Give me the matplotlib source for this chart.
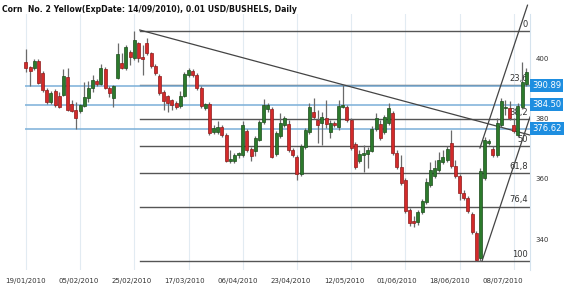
import numpy as np
import matplotlib
matplotlib.use("Agg")
import matplotlib.pyplot as plt
import matplotlib.transforms as mtransforms

# daily OHLC, 19/01/2010 .. 13/07/2010 (one entry per trading day)
opens = [398.7, 397.0, 396.7, 399.0, 395.0, 389.4, 385.4, 389.1, 387.4, 387.8,
         393.7, 384.8, 382.8, 382.5, 384.1, 386.8, 390.1, 392.4, 391.4, 396.4,
         390.1, 386.8, 393.4, 398.3, 396.7, 402.0, 400.0, 405.0, 400.3, 405.0,
         401.7, 397.4, 394.0, 388.7, 387.4, 386.1, 385.1, 384.1, 387.4, 394.4,
         395.7, 394.4, 390.1, 383.4, 384.8, 375.5, 375.5, 377.2, 374.5, 365.9,
         365.9, 367.9, 367.9, 375.8, 369.9, 369.2, 372.9, 378.8, 383.1, 383.1,
         368.2, 374.2, 377.8, 378.1, 369.5, 367.2, 361.6, 370.5, 375.5, 382.1,
         379.5, 378.5, 380.1, 375.5, 378.5, 377.2, 383.8, 383.8, 379.5, 371.5,
         365.9, 367.9, 368.2, 369.2, 376.5, 378.1, 375.5, 378.5, 381.8, 368.5,
         363.9, 359.6, 349.7, 346.0, 345.7, 349.0, 352.3, 358.0, 360.9, 362.9,
         365.6, 366.2, 371.9, 364.2, 360.9, 355.3, 353.6, 348.3, 342.1, 333.8,
         360.3, 371.9, 369.9, 367.9, 377.8, 383.4, 383.4, 377.8, 374.5, 383.8,
         391.4]
highs = [403.0, 397.4, 399.7, 399.7, 395.7, 390.1, 389.1, 389.7, 388.7, 396.4,
         396.7, 386.1, 385.4, 384.8, 392.1, 392.4, 394.4, 393.0, 398.0, 397.0,
         390.7, 391.1, 405.0, 401.7, 404.3, 402.6, 408.9, 405.3, 404.3, 406.6,
         402.0, 398.0, 394.7, 389.4, 387.8, 386.4, 385.8, 389.1, 395.4, 396.7,
         396.4, 395.0, 390.7, 385.1, 385.4, 377.8, 379.1, 377.8, 375.2, 369.5,
         368.5, 368.9, 379.1, 376.5, 370.5, 374.2, 379.5, 386.4, 385.1, 383.8,
         375.8, 381.8, 380.8, 379.5, 370.2, 367.9, 371.5, 376.8, 385.1, 386.8,
         382.8, 382.1, 386.1, 379.5, 379.1, 386.1, 391.1, 384.4, 380.1, 372.2,
         369.5, 371.2, 370.5, 377.5, 381.8, 379.5, 381.1, 385.1, 382.5, 369.5,
         367.9, 360.3, 350.3, 347.7, 349.7, 353.3, 360.3, 365.6, 366.2, 368.9,
         369.5, 370.9, 376.2, 366.2, 361.6, 356.3, 354.3, 349.0, 342.7, 363.6,
         373.8, 373.2, 370.9, 380.1, 386.8, 386.1, 385.8, 380.1, 385.1, 398.7,
         396.7]
lows = [395.4, 390.7, 396.0, 391.4, 388.7, 384.8, 384.8, 383.8, 383.4, 387.4,
        382.5, 382.1, 376.5, 381.8, 383.8, 385.4, 388.7, 390.7, 391.1, 389.7,
        387.1, 383.8, 393.0, 396.4, 396.0, 397.7, 399.3, 398.7, 394.4, 401.0,
        396.7, 394.4, 387.8, 382.8, 382.1, 382.8, 383.1, 383.4, 387.1, 393.7,
        393.7, 389.4, 383.4, 382.8, 374.5, 374.8, 374.8, 373.8, 365.6, 365.2,
        365.2, 366.9, 367.2, 368.9, 365.9, 367.6, 372.5, 378.1, 382.1, 366.9,
        367.6, 373.5, 377.2, 368.9, 367.2, 359.6, 360.9, 369.9, 374.8, 379.8,
        371.9, 371.2, 376.8, 373.5, 377.2, 376.2, 383.4, 378.8, 369.5, 363.2,
        365.2, 362.3, 363.6, 368.9, 375.8, 372.9, 374.8, 377.8, 367.9, 363.2,
        358.0, 348.7, 344.4, 344.0, 344.7, 348.3, 351.7, 357.3, 360.3, 362.3,
        364.9, 365.6, 363.6, 360.3, 353.0, 353.0, 348.7, 341.7, 332.8, 332.8,
        359.6, 371.2, 367.2, 367.2, 377.2, 381.1, 379.5, 375.2, 373.8, 383.1,
        390.7]
closes = [396.7, 395.7, 399.0, 391.7, 389.4, 385.4, 388.4, 384.4, 383.8, 394.0,
          382.8, 382.5, 380.1, 384.4, 387.1, 390.1, 392.7, 391.4, 396.7, 390.1,
          388.4, 390.7, 401.3, 396.7, 403.6, 400.3, 406.0, 400.0, 399.7, 401.7,
          397.4, 395.0, 388.4, 385.8, 385.1, 384.4, 383.8, 387.4, 394.7, 396.0,
          394.4, 390.1, 384.1, 384.8, 375.2, 376.8, 377.2, 374.5, 365.9, 366.6,
          367.9, 368.5, 377.8, 369.5, 367.6, 373.5, 378.8, 384.4, 384.4, 367.2,
          375.2, 378.5, 380.1, 369.5, 367.9, 361.6, 370.9, 376.2, 383.8, 380.5,
          377.8, 380.5, 378.1, 378.5, 377.8, 384.1, 384.4, 379.5, 370.2, 363.9,
          368.2, 368.5, 369.5, 376.5, 380.1, 373.5, 380.5, 383.4, 368.5, 363.9,
          358.6, 349.3, 345.4, 345.4, 349.0, 352.7, 358.9, 362.9, 363.6, 366.2,
          367.2, 369.9, 364.2, 360.9, 355.3, 353.6, 349.3, 342.4, 333.1, 362.6,
          372.9, 372.5, 367.9, 378.5, 385.8, 383.8, 380.1, 375.8, 384.1, 392.1,
          395.4]

tick_bars = [0, 13, 26, 39, 52, 65, 78, 91, 104, 117]
tick_labels = ["19/01/2010", "05/02/2010", "25/02/2010", "17/03/2010", "06/04/2010",
               "23/04/2010", "12/05/2010", "01/06/2010", "18/06/2010", "08/07/2010"]

price_levels = [390.89, 384.50, 376.62]
fib_ratios = [0, 23.6, 38.2, 50, 61.8, 76.4, 100]
fib_names = ["0", "23,6", "38,2", "50", "61,8", "76,4", "100"]
fib_start = 27.3

# drawn trend tools (bar index, price)
trend_x, trend_y = [27.3, 120.9], [409.3, 374.5]
fan_x, fan_y = [109.4, 120.9], [332.8, 380.5]
channel_shift = 39.5

o = np.array(opens); h = np.array(highs); l = np.array(lows); c = np.array(closes)
x = np.arange(len(o))
up = c >= o

fig = plt.figure(figsize=(5.7, 2.93), dpi=100)
ax = fig.add_axes([18 / 570, 23 / 293, 512 / 570, 256 / 293])
ax.set_xlim(-1.9, 120.9)
ax.set_ylim(329.8, 414.6)

for b in tick_bars:
    ax.axvline(b, color="#e2ebf2", lw=0.8, zorder=0)

# fibonacci retracement
hi, lo = h.max(), l.min()
for r, name in zip(fib_ratios, fib_names):
    lev = hi - (hi - lo) * r / 100
    ax.plot([fib_start, 121], [lev, lev], color="#555555", lw=1, zorder=1)
    ax.text(120.4, lev + 0.8, name, ha="right", va="bottom", fontsize=6,
            color="#333333", zorder=1)

ax.hlines(price_levels, -0.3, 121, color="#7aafd8", lw=1.1, zorder=1)

ax.plot(trend_x, trend_y, color="#444444", lw=0.9, zorder=2)
ax.plot(fan_x, fan_y, color="#444444", lw=0.9, zorder=2)
slope = (fan_y[1] - fan_y[0]) / (fan_x[1] - fan_x[0])
bx = [fan_x[0] - 0.5, 120.3]
ax.plot(bx, [fan_y[0] + channel_shift + slope * (v - fan_x[0]) for v in bx],
        color="#444444", lw=0.9, zorder=2, clip_on=False)

# candles
ax.vlines(x, l, h, color="#6a6a6a", lw=0.9, zorder=3)
body = np.maximum(np.abs(c - o), 0.35)
ax.bar(x[up], body[up], bottom=np.minimum(o, c)[up], width=0.72,
       color="#2c7a2c", edgecolor="#1c4d1c", lw=0.5, zorder=4)
ax.bar(x[~up], body[~up], bottom=np.minimum(o, c)[~up], width=0.72,
       color="#d32a2a", edgecolor="#8e1b1b", lw=0.5, zorder=4)

trans = mtransforms.blended_transform_factory(ax.transAxes, ax.transData)
for p in price_levels:
    ax.text(1.004, p, f"{p:.2f}", transform=trans, ha="left", va="center",
            fontsize=6, color="white", zorder=6, clip_on=False,
            bbox=dict(boxstyle="square,pad=0.25", fc="#1e8ee0", ec="none"))

ax.set_xticks([b * 0.978 for b in tick_bars], tick_labels)
ax.yaxis.tick_right()
ax.set_yticks([340, 360, 380, 400])
ax.tick_params(axis="x", length=0, pad=6, labelsize=5, labelcolor="#333333")
ax.tick_params(axis="y", length=0, pad=4, labelsize=5, labelcolor="#333333")
for s in ["top", "left", "bottom"]:
    ax.spines[s].set_visible(False)
ax.spines["right"].set_color("#d5e3ee")

fig.text(2 / 570, 1 - 9 / 293, "Corn  No. 2 Yellow(ExpDate: 14/09/2010), 0.01 USD/BUSHELS, Daily",
         fontsize=5.6, fontweight="bold", va="center", ha="left", color="#111111")

fig.savefig("out.png", dpi=100)
